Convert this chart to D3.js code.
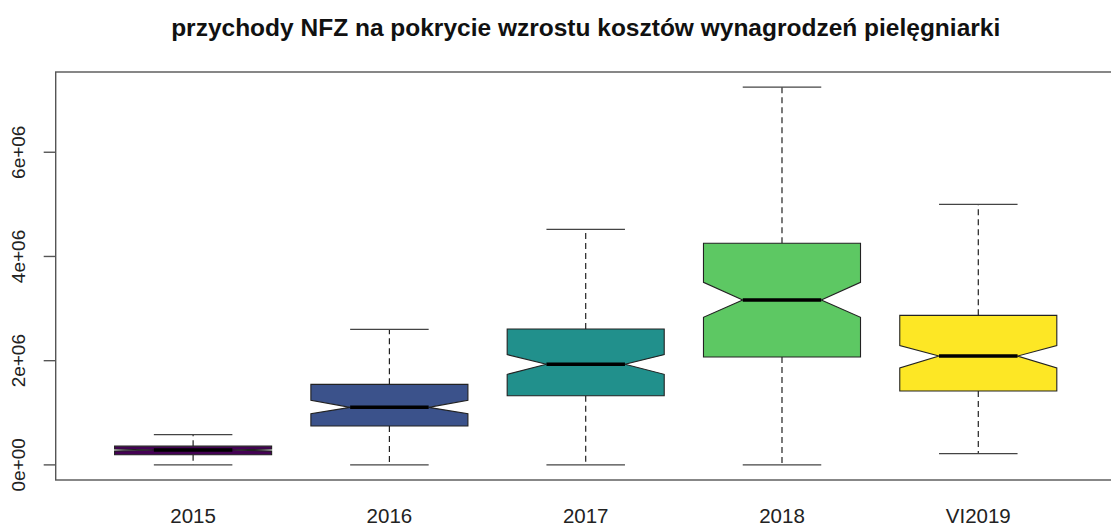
<!DOCTYPE html>
<html><head><meta charset="utf-8">
<script src="https://cdn.jsdelivr.net/npm/d3@7"></script>
<style>body{margin:0;background:#fff}svg{display:block}</style>
</head><body>
<script>
const categories = ["2015","2016","2017","2018","VI2019"];
const colors = ["#440154","#3B528B","#21908C","#5DC863","#FDE725"];
const whiskerLow  = [0, 0, 0, 0, 215000];
const q1          = [196000, 745000, 1328000, 2070000, 1417000];
const notchLow    = [265000, 980000, 1738000, 2832000, 1859000];
const median      = [285000, 1104000, 1930000, 3165000, 2089000];
const notchHigh   = [305000, 1240000, 2116000, 3504000, 2289000];
const q3          = [360000, 1546000, 2608000, 4253000, 2870000];
const whiskerHigh = [580000, 2600000, 4520000, 7250000, 5000000];
const yTicks = [0, 2e6, 4e6, 6e6];
const yTickLabels = ["0e+00","2e+06","4e+06","6e+06"];
const title = "przychody NFZ na pokrycie wzrostu kosztów wynagrodzeń pielęgniarki";

(function () {
const W = 1111, H = 526;
const svg = d3.select("body").append("svg").attr("width", W).attr("height", H);

const pLeft = 55.7, pRight = 1115.7, pTop = 72, pBottom = 480;
const x = d3.scaleLinear().domain([0.3, 5.7]).range([pLeft, pRight]);
const yMin = 0, yMax = d3.max(whiskerHigh), pad = (yMax - yMin) * 0.04;
const y = d3.scaleLinear().domain([yMin - pad, yMax + pad]).range([pBottom, pTop]);

const boxWid = (x(1.4) - x(1)); // half width
const lineCol = "#222";

categories.forEach((c, i) => {
  const cx = x(i + 1);
  const w = boxWid;
  svg.append("line").attr("x1", cx).attr("x2", cx).attr("y1", y(q3[i])).attr("y2", y(whiskerHigh[i]))
    .attr("stroke", lineCol).attr("stroke-width", 1.2).attr("stroke-dasharray", "6,4");
  svg.append("line").attr("x1", cx).attr("x2", cx).attr("y1", y(q1[i])).attr("y2", y(whiskerLow[i]))
    .attr("stroke", lineCol).attr("stroke-width", 1.2).attr("stroke-dasharray", "6,4");
  [whiskerHigh[i], whiskerLow[i]].forEach(v => {
    svg.append("line").attr("x1", cx - w/2).attr("x2", cx + w/2).attr("y1", y(v)).attr("y2", y(v))
      .attr("stroke", "#444").attr("stroke-width", 1.3);
  });
  const xs = [-1, 1, 1, 0.5, 1, 1, -1, -1, -0.5, -1].map(k => cx + k * w);
  const ys = [q1[i], q1[i], notchLow[i], median[i], notchHigh[i], q3[i], q3[i], notchHigh[i], median[i], notchLow[i]].map(y);
  svg.append("path").attr("d", d3.line()(xs.map((xx, j) => [xx, ys[j]])) + "Z")
    .attr("fill", colors[i]).attr("stroke", lineCol).attr("stroke-width", 1.1);
  svg.append("line").attr("x1", cx - w/2).attr("x2", cx + w/2).attr("y1", y(median[i])).attr("y2", y(median[i]))
    .attr("stroke", "#000").attr("stroke-width", 3.5);
});

svg.append("rect").attr("x", pLeft).attr("y", pTop).attr("width", pRight - pLeft).attr("height", pBottom - pTop)
  .attr("fill", "none").attr("stroke", "#555").attr("stroke-width", 1.4);

const yAxis = svg.append("g");
yAxis.selectAll("line.t").data(yTicks).enter().append("line")
  .attr("x1", pLeft - 12).attr("x2", pLeft).attr("y1", d => y(d)).attr("y2", d => y(d))
  .attr("stroke", "#555").attr("stroke-width", 1.4);
yAxis.selectAll("text").data(yTicks).enter().append("text")
  .attr("transform", d => `translate(25,${y(d)}) rotate(-90)`)
  .attr("text-anchor", "middle")
  .attr("font-family", "Liberation Sans, Arial, sans-serif").attr("font-size", 19).attr("fill", "#222")
  .text((d, i) => yTickLabels[i]);

svg.selectAll("text.xl").data(categories).enter().append("text")
  .attr("x", (d, i) => x(i + 1)).attr("y", 523)
  .attr("text-anchor", "middle")
  .attr("font-family", "Liberation Sans, Arial, sans-serif").attr("font-size", 20.5).attr("fill", "#222")
  .text(d => d);

svg.append("text").attr("x", (pLeft + pRight) / 2).attr("y", 36)
  .attr("text-anchor", "middle")
  .attr("font-family", "Liberation Sans, Arial, sans-serif").attr("font-size", 24.5).attr("font-weight", "bold").attr("fill", "#111")
  .text(title);
})();
</script>
</body></html>
